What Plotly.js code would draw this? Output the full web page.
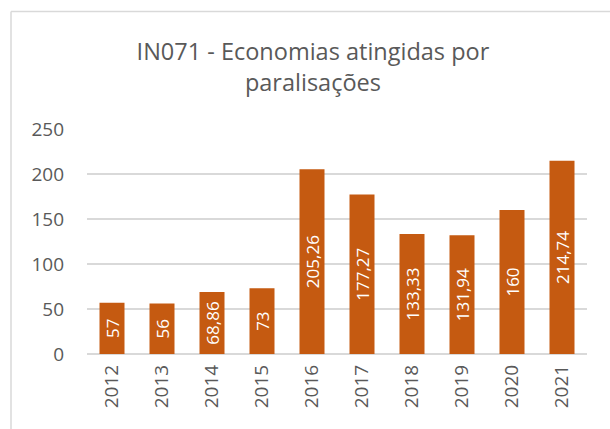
<!DOCTYPE html>
<html>
<head>
<meta charset="utf-8">
<script src="https://cdn.plot.ly/plotly-3.0.1.min.js"></script>
<style>html,body{margin:0;padding:0;background:#fff;}#chart{width:610px;height:429px;}</style>
</head>
<body>
<div id="chart"></div>
<script>
const years = ['2012','2013','2014','2015','2016','2017','2018','2019','2020','2021'];
const values = [57, 56, 68.86, 73, 205.26, 177.27, 133.33, 131.94, 160, 214.74];
const labels = values.map(v => String(v).replace('.', ','));
const yTicks = [0, 50, 100, 150, 200, 250];
const titleText = 'IN071 - Economias atingidas por<br>paralisações';

const FONT = 'Open Sans, sans-serif';
const GREY = '#595959';
const GRID = '#D9D9D9';

const trace = {
  type: 'bar',
  x: years,
  y: values,
  text: labels,
  textposition: 'inside',
  insidetextanchor: 'middle',
  textangle: -90,
  constraintext: 'none',
  textfont: {family: FONT, size: 17, color: '#FFFFFF'},
  marker: {color: '#C55A11', line: {width: 0}},
  hoverinfo: 'none'
};

const layout = {
  width: 610,
  height: 429,
  margin: {l: 87, r: 23, t: 129, b: 75},
  paper_bgcolor: '#FFFFFF',
  plot_bgcolor: '#FFFFFF',
  bargap: 0.5,
  showlegend: false,
  title: {
    text: titleText,
    font: {family: FONT, size: 23.5, color: GREY},
    xref: 'container', x: 0.513, xanchor: 'center',
    yref: 'container', y: 0.86, yanchor: 'top'
  },
  xaxis: {
    type: 'category',
    tickangle: -90,
    tickfont: {family: FONT, size: 19, color: GREY},
    showgrid: false,
    showline: false,
    ticks: '',
    ticklabelstandoff: 6
  },
  yaxis: {
    range: [0, 250],
    tickvals: yTicks,
    ticktext: yTicks.map(String),
    tickfont: {family: FONT, size: 19, color: GREY},
    showgrid: true,
    gridcolor: GRID,
    gridwidth: 1.5,
    zeroline: true,
    zerolinecolor: GRID,
    zerolinewidth: 1.5,
    showline: false,
    ticks: '',
    ticklabelstandoff: 22
  },
  shapes: [
    {type: 'line', xref: 'paper', yref: 'paper', x0: -0.152, x1: -0.152, y0: 1.522, y1: -0.4, line: {color: GRID, width: 1.5}},
    {type: 'line', xref: 'paper', yref: 'paper', x0: -0.152, x1: 1.1, y0: 1.522, y1: 1.522, line: {color: GRID, width: 1.5}}
  ]
};

Plotly.newPlot('chart', [trace], layout, {displayModeBar: false, staticPlot: true});
</script>
</body>
</html>
